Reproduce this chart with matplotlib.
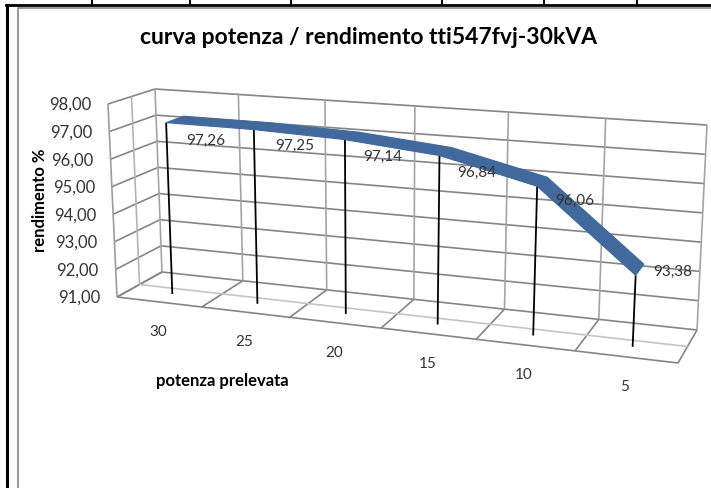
import numpy as np
import matplotlib
matplotlib.use("Agg")
import matplotlib.pyplot as plt
from matplotlib.patches import Polygon

categories = ["30", "25", "20", "15", "10", "5"]
efficiency = [97.26, 97.25, 97.14, 96.84, 96.06, 93.38]
value_ticks = [91, 92, 93, 94, 95, 96, 97, 98]
title = "curva potenza / rendimento tti547fvj-30kVA"
y_title = "rendimento %"
x_title = "potenza prelevata"

# --- pixel layout of the 3D box (u: category, w: depth, t: value) ---
BOX = {  # (u, w, t) -> pixel
    (0, 0, 0): (117, 297), (1, 0, 0): (678, 363),
    (0, 1, 0): (162, 272), (1, 1, 0): (697, 330),
    (0, 0, 1): (108, 104), (1, 0, 1): (689, 147),
    (0, 1, 1): (155, 89),  (1, 1, 1): (707, 125),
}
PERSP = 1.124
VMIN, VMAX = value_ticks[0], value_ticks[-1]
N = len(categories)


def proj(cat, w, v):
    """cat in category units (0..N), w depth 0..1, v in data units."""
    u0 = cat / N
    u = u0 / (u0 + PERSP * (1 - u0))
    t = (v - VMIN) / (VMAX - VMIN)
    p = np.zeros(2)
    for a, wa in ((0, 1 - u), (1, u)):
        for b, wb in ((0, 1 - w), (1, w)):
            for c, wc in ((0, 1 - t), (1, t)):
                p += wa * wb * wc * np.array(BOX[(a, b, c)])
    return p


plt.rcParams["font.family"] = ["Lato", "DejaVu Sans"]
fig = plt.figure(figsize=(7.11, 4.88), dpi=100)
ax = fig.add_axes([0, 0, 1, 1])
ax.set_xlim(0, 711)
ax.set_ylim(488, 0)
ax.axis("off")


def seg(a, b, color="#858585", lw=1.2, z=2):
    a, b = np.asarray(a), np.asarray(b)
    ax.plot([a[0], b[0]], [a[1], b[1]], color=color, lw=lw, zorder=z,
            solid_capstyle="butt")


# outer page table / chart frame
ax.plot([7, 7], [5, 488], color="black", lw=2.2, zorder=1)
ax.plot([6, 711], [5, 5], color="black", lw=2.0, zorder=1)
for x in [92, 190, 291, 442, 544, 637]:
    ax.plot([x, x], [0, 5], color="black", lw=1.4, zorder=1)
ax.plot([18, 18, 711], [488, 8, 8], color="#9a9a9a", lw=1.5, zorder=1)

# walls and floor grid
for v in value_ticks:
    seg(proj(0, 0, v), proj(0, 1, v))
    seg(proj(0, 1, v), proj(N, 1, v))
for c in range(0, N + 1):
    seg(proj(c, 1, VMIN), proj(c, 1, VMAX), color="#a4a4a4")
    seg(proj(c, 0, VMIN), proj(c, 1, VMIN))
seg(proj(0, .5, VMIN), proj(0, .5, VMAX), color="#b4b4b4")
seg(proj(0, 0, VMIN), proj(0, 0, VMAX), color="#9c9c9c")
seg(proj(0, .5, VMIN), proj(N, .5, VMIN), color="#c4c4c4")
seg(proj(0, 0, VMIN), proj(N, 0, VMIN))

# series ribbon and drop lines
W_FRONT, W_BACK = 0.31, 0.70
xs = np.arange(N) + 0.5
for c, v in zip(xs, efficiency):
    seg(proj(c, W_FRONT, v), proj(c, W_FRONT, VMIN), color="black", lw=1.3, z=3)
for i in range(N - 1):
    pts = [proj(xs[i], W_FRONT, efficiency[i]), proj(xs[i + 1], W_FRONT, efficiency[i + 1]),
           proj(xs[i + 1], W_BACK, efficiency[i + 1]), proj(xs[i], W_BACK, efficiency[i])]
    ax.add_patch(Polygon(pts, closed=True, facecolor="#41699c",
                         edgecolor="#41699c", lw=0.8, zorder=4))

# text
TXT = "#333333"
FS = 11
LABEL_OFFSETS = [(40, 18), (41, 16), (38, 17), (37, 17), (38, 15), (37, -3)]
for c, v, off in zip(xs, efficiency, LABEL_OFFSETS):
    p = proj(c, W_FRONT, v)
    ax.text(p[0] + off[0], p[1] + off[1], f"{v:.2f}".replace(".", ","), fontsize=FS,
            color=TXT, ha="center", va="center", zorder=5)
for v in value_ticks:
    p = proj(0, 0, v)
    ax.text(p[0] - 38, p[1] + 1, f"{v:.2f}".replace(".", ","), fontsize=FS + 1, color=TXT,
            ha="center", va="center")
for c, name in zip(xs, categories):
    p = proj(c, 0, VMIN)
    ax.text(p[0] - 1, p[1] + 30, name, fontsize=FS, color=TXT, ha="center", va="center")

ax.text(368, 38, title, fontsize=16.5, fontweight="bold", color="black",
        ha="center", va="center")
ax.text(40, 200, y_title, fontsize=12, fontweight="bold", color="black",
        rotation=90, ha="center", va="center")
ax.text(222, 381, x_title, fontsize=12, fontweight="bold", color="black",
        ha="center", va="center")

fig.savefig("out.png", dpi=100)
